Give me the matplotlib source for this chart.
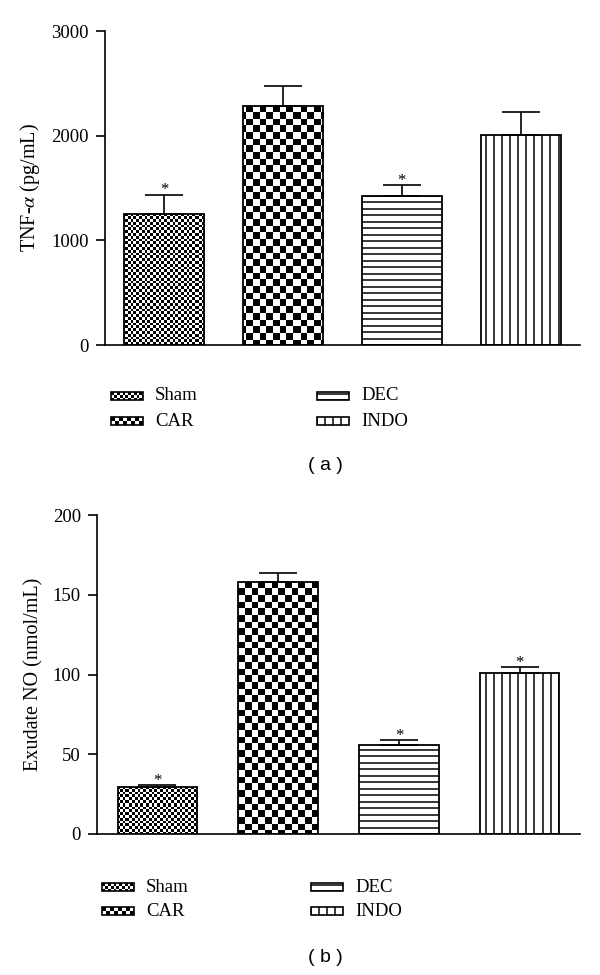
import numpy as np
import matplotlib.pyplot as plt
from matplotlib.patches import Rectangle
from matplotlib.collections import LineCollection

plt.rcParams['font.family'] = ['Liberation Serif', 'DejaVu Serif']
plt.rcParams['mathtext.fontset'] = 'stix'

# dados
groups = ['Sham', 'CAR', 'DEC', 'INDO']
patterns = ['fine', 'coarse', 'hline', 'vline']

tnf_mean = [1250, 2280, 1425, 2005]
tnf_sem = [185, 195, 100, 225]
tnf_star = [True, False, True, False]

no_mean = [29.6, 158, 56, 100.7]
no_sem = [0.9, 5.8, 2.8, 3.8]
no_star = [True, False, True, True]

W, H = 600, 975
fig = plt.figure(figsize=(W / 100, H / 100), dpi=100)


def checker(w, h, c):
    yy, xx = np.mgrid[0:h, 0:w]
    return (np.floor(xx / c) + np.floor(yy / c)) % 2


def add_texture(ax, patch, kind, w, h, transform, flip=False, cell=None):
    """preenche o patch com o padrão; w, h = tamanho em pixels da área coberta"""
    if kind in ('fine', 'coarse'):
        c = cell or (2.8 if kind == 'fine' else 6.7)
        ext = patch_ext = [0, 1, 0, 1] if not flip else None
        return checker(w, h, c), c
    return None, None


def fill_pattern(ax, patch, kind, w, h, x0, x1, y0, y1, transform, cell=None, z=1.5):
    # x0..x1, y0..y1 em coordenadas de 'transform', cobrindo w x h pixels
    if kind in ('fine', 'coarse'):
        c = cell or (2.8 if kind == 'fine' else 6.7)
        im = ax.imshow(checker(w, h, c), cmap='gray', vmin=0, vmax=1,
                       extent=[x0, x1, y0, y1], transform=transform, aspect='auto',
                       interpolation='nearest', zorder=z)
    else:
        step = 6.5 if kind == 'hline' else 8.1
        if kind == 'hline':
            pos = np.arange(0, h, step) / h
            segs = [[(x0, y0 + p * (y1 - y0)), (x1, y0 + p * (y1 - y0))] for p in pos]
        else:
            pos = np.arange(0, w, step) / w
            segs = [[(x0 + p * (x1 - x0), y0), (x0 + p * (x1 - x0), y1)] for p in pos]
        im = LineCollection(segs, colors='black', linewidths=1.1,
                            transform=transform, zorder=z)
        ax.add_collection(im)
    im.set_clip_path(patch)


def panel(rect, means, sems, stars, ylim, yticks, ylabel, width):
    ax = fig.add_axes(rect)
    x = np.arange(len(groups))
    bars = ax.bar(x, means, width=width, color='white', edgecolor='none', zorder=1)
    bb = ax.get_position()
    tw, th = int(round(bb.width * W)), int(round(bb.height * H))
    for b, kind in zip(bars, patterns):
        fill_pattern(ax, b, kind, tw, th, 0, 1, 0, 1, ax.transAxes)
    ax.bar(x, means, width=width, fill=False, edgecolor='black', linewidth=1.3, zorder=2)
    ax.errorbar(x, means, yerr=[np.zeros(len(sems)), sems], fmt='none', ecolor='black',
                elinewidth=1.2, capsize=14, capthick=1.2, zorder=3)
    for xi, m, s, st in zip(x, means, sems, stars):
        if st:
            ax.annotate('*', (xi, m + s), xytext=(0, 0.5), textcoords='offset points',
                        ha='center', va='baseline', fontsize=12)
    ax.set_xlim(-0.5, 3.5)
    ax.set_ylim(*ylim)
    ax.set_yticks(yticks)
    ax.set_xticks([])
    for s in ['top', 'right']:
        ax.spines[s].set_visible(False)
    for s in ['left', 'bottom']:
        ax.spines[s].set_linewidth(1.2)
    ax.tick_params(axis='y', direction='out', length=6.5, width=1.2, labelsize=13.5, pad=5)
    ax.set_ylabel(ylabel, fontsize=14.5, labelpad=7)
    return ax


ax1 = panel([105 / W, 1 - 345 / H, 475 / W, 314 / H], tnf_mean, tnf_sem, tnf_star,
            (0, 3000), [0, 1000, 2000, 3000], 'TNF-$\\alpha$ (pg/mL)', 0.674)
ax2 = panel([97 / W, 1 - 834 / H, 483 / W, 319 / H], no_mean, no_sem, no_star,
            (0, 200), [0, 50, 100, 150, 200], 'Exudate NO (nmol/mL)', 0.66)

# legenda e rótulos (a)/(b) em coordenadas de pixel
ov = fig.add_axes([0, 0, 1, 1])
ov.axis('off')

legends = [
    # (x col1, x col2, y linha1, y linha2)
    (111, 317, 396, 421),
    (102, 311, 887, 911),
]
pw, ph = 32, 8
for c1, c2, r1, r2 in legends:
    pos = [(c1, r1), (c1, r2), (c2, r1), (c2, r2)]
    for (px, py), name, kind in zip(pos, groups, patterns):
        box = Rectangle((px, py - ph / 2), pw, ph, facecolor='white', edgecolor='none')
        ov.add_patch(box)
        cell = 4 if kind == 'coarse' else None
        fill_pattern(ov, box, kind, pw, ph, px, px + pw, py + ph / 2, py - ph / 2,
                     ov.transData, cell=cell, z=2)
        ov.add_patch(Rectangle((px, py - ph / 2), pw, ph, fill=False,
                               edgecolor='black', linewidth=1.2, zorder=3))
        ov.text(px + pw + 12, py, name, va='center', ha='left', fontsize=13.5)

ov.text(325, 466, '( a )', ha='center', va='center', fontsize=14,
        family=['Liberation Sans', 'DejaVu Sans'])
ov.text(325, 957, '( b )', ha='center', va='center', fontsize=14,
        family=['Liberation Sans', 'DejaVu Sans'])
ov.set_xlim(0, W)
ov.set_ylim(H, 0)

fig.savefig('out.png', dpi=100)
